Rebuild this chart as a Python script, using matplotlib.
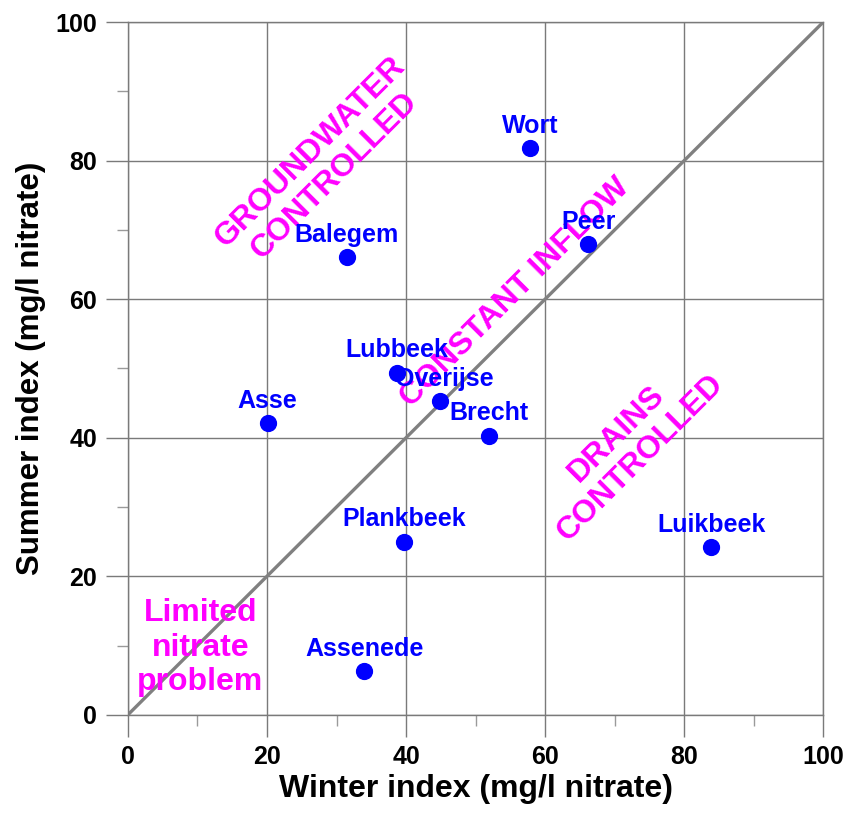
import matplotlib.pyplot as plt
from matplotlib.ticker import MultipleLocator

plt.rcParams['font.family'] = ['Liberation Sans', 'DejaVu Sans']
plt.rcParams['font.weight'] = 'bold'

sites = ['Wort', 'Peer', 'Balegem', 'Lubbeek', 'Overijse', 'Asse', 'Brecht',
         'Plankbeek', 'Luikbeek', 'Assenede']
winter = [57.8, 66.2, 31.5, 38.7, 44.9, 20.1, 51.9, 39.7, 83.9, 34.0]
summer = [81.8, 68.0, 66.1, 49.4, 45.3, 42.1, 40.3, 25.0, 24.2, 6.3]
label_dx = [0, 0, 0, 0, 3, 0, 0, 0, 0, 0]

fig = plt.figure(figsize=(8.47, 8.16), dpi=100)
ax = fig.add_axes([0.151, 0.124, 0.821, 0.849])

ax.set_xlim(0, 100)
ax.set_ylim(0, 100)
ax.xaxis.set_major_locator(MultipleLocator(20))
ax.yaxis.set_major_locator(MultipleLocator(20))
ax.xaxis.set_minor_locator(MultipleLocator(10))
ax.yaxis.set_minor_locator(MultipleLocator(10))
ax.grid(True, which='major', color='#7a7a7a', linewidth=1.0, zorder=0)
for s in ax.spines.values():
    s.set_color('#7a7a7a')
    s.set_linewidth(1.0)
ax.tick_params(which='major', length=16, width=1.0, color='#7a7a7a',
               labelsize=18, pad=6)
ax.tick_params(which='minor', length=8, width=1.0, color='#9a9a9a')

# 1:1 line
ax.plot([0, 100], [0, 100], color='#808080', linewidth=2.4, zorder=2)

ax.scatter(winter, summer, s=130, color='#0000ff', zorder=4)
for name, x, y, dx in zip(sites, winter, summer, label_dx):
    ax.annotate(name, (x, y), xytext=(dx, 16), textcoords='offset points',
                ha='center', va='center', color='#0000ff', fontsize=18,
                fontweight='bold', zorder=5)

mag = '#ff00ff'
ax.text(28, 79.5, 'GROUNDWATER\nCONTROLLED', rotation=45, ha='center',
        va='center', color=mag, fontsize=23, fontweight='bold',
        multialignment='center', rotation_mode='anchor', zorder=3)
ax.text(55.7, 60.9, 'CONSTANT INFLOW', rotation=45, ha='center',
        va='center', color=mag, fontsize=23, fontweight='bold',
        rotation_mode='anchor', zorder=3)
ax.text(72.0, 38.8, 'DRAINS\nCONTROLLED', rotation=45, ha='center',
        va='center', color=mag, fontsize=23, fontweight='bold',
        multialignment='center', rotation_mode='anchor', zorder=3)
ax.text(10.4, 9.7, 'Limited\nnitrate\nproblem', ha='center', va='center',
        color=mag, fontsize=23, fontweight='bold', multialignment='center',
        zorder=3)

ax.set_xlabel('Winter index (mg/l nitrate)', fontsize=23, fontweight='bold',
              labelpad=3)
ax.set_ylabel('Summer index (mg/l nitrate)', fontsize=22.5, fontweight='bold',
              labelpad=7)

fig.savefig('out.png', dpi=100, facecolor='white')
